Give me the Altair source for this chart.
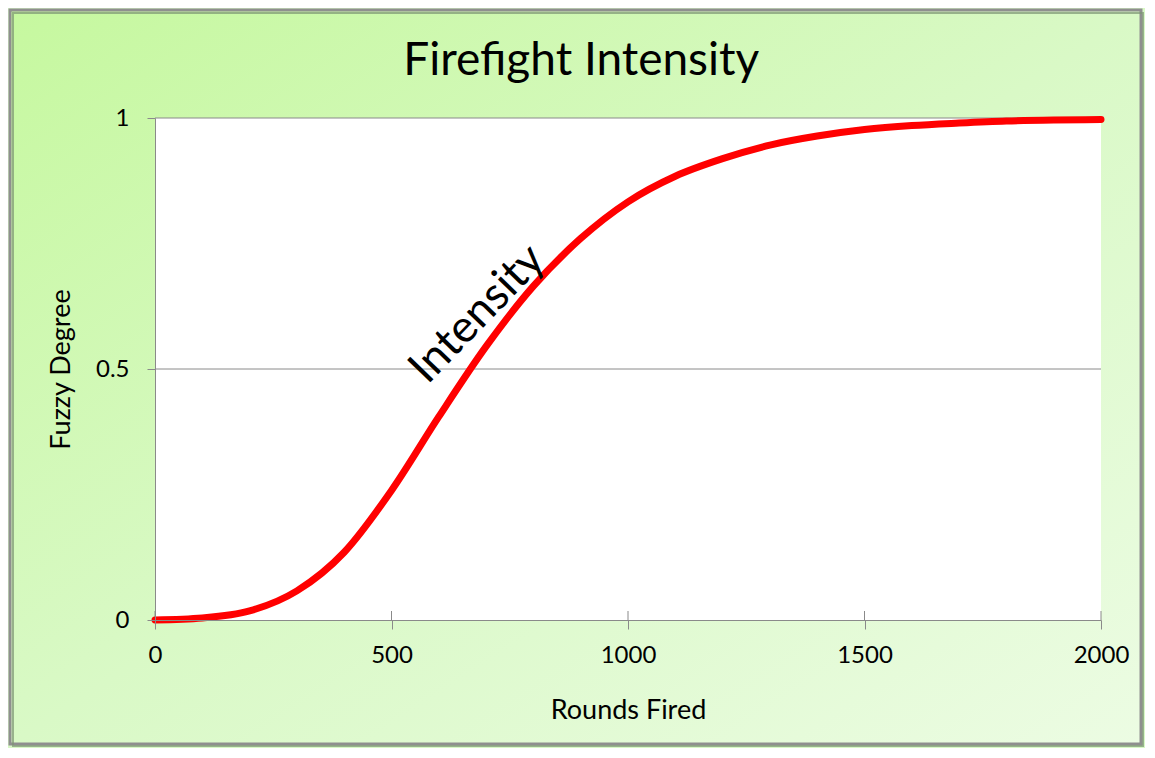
import altair as alt
import pandas as pd

# Curve values
rounds = [0, 100, 200, 300, 400, 500, 600, 700, 800, 900, 1000,
          1100, 1200, 1300, 1400, 1500, 1600, 1700, 1800, 1900, 2000]
degree = [0.0, 0.004, 0.018, 0.058, 0.135, 0.258, 0.405, 0.545, 0.665, 0.76, 0.833,
          0.884, 0.919, 0.946, 0.964, 0.977, 0.985, 0.99, 0.994, 0.996, 0.997]

x_ticks = [0, 500, 1000, 1500, 2000]
y_ticks = [0, 0.5, 1]
grid_vals = [0.5, 1]

title_text = "Firefight Intensity"
x_title = "Rounds Fired"
y_title = "Fuzzy Degree"
label_text = ["Intensity"]
label_x = [681]
label_y = [0.61]

W, H = 946, 502
PL, PT, PR, PB = 147, 110, 44, 128

curve = pd.DataFrame({"x": rounds, "y": degree})
ticks_df = pd.DataFrame({"x": x_ticks})
grid_df = pd.DataFrame({"y": grid_vals})
lab_df = pd.DataFrame({"x": label_x, "y": label_y, "t": label_text})

xs = alt.Scale(domain=[0, 2000], nice=False)
ys = alt.Scale(domain=[0, 1], nice=False)

x_axis = alt.Axis(values=x_ticks, format="d", grid=False, tickSize=9, labelFlush=False,
                  labelPadding=14, titlePadding=30, zindex=1)
y_axis = alt.Axis(values=y_ticks, format="~g", grid=False, tickSize=8, labelFlush=False,
                  labelPadding=18, titlePadding=20, zindex=1)

grad = alt.Gradient(
    gradient="linear",
    stops=[alt.GradientStop(offset=0, color="#c6f89f"),
           alt.GradientStop(offset=0.5, color="#d9f9c6"),
           alt.GradientStop(offset=1, color="#ecfce3")],
    x1=0, y1=0, x2=1, y2=1,
)

one = pd.DataFrame({"a": [0]})
bg = alt.Chart(one).mark_rect(
    fill=grad, stroke="#8f8f8f", strokeWidth=3
).encode(
    x=alt.value(-PL + 2), x2=alt.value(W + PR - 4),
    y=alt.value(-PT + 2), y2=alt.value(H + PB - 4),
)
shadow = alt.Chart(one).mark_rect(
    fill="none", stroke="#7c9474", strokeWidth=2, strokeOpacity=0.7
).encode(
    x=alt.value(-PL + 5), x2=alt.value(W + PR - 2),
    y=alt.value(-PT + 5), y2=alt.value(H + PB - 2),
)
plot_bg = alt.Chart(one).mark_rect(fill="white").encode(
    x=alt.value(0), x2=alt.value(W), y=alt.value(0), y2=alt.value(H)
)

grid = alt.Chart(grid_df).mark_rule(color="#8a8a8a", strokeWidth=1).encode(
    y=alt.Y("y:Q", scale=ys, title=y_title, axis=y_axis), x=alt.value(0), x2=alt.value(W)
)
inner_ticks = alt.Chart(ticks_df).mark_rule(color="#8a8a8a", strokeWidth=1).encode(
    x=alt.X("x:Q", scale=xs, title=x_title, axis=x_axis), y=alt.value(H - 9), y2=alt.value(H)
)

line = alt.Chart(curve).mark_line(
    color="#ff0000", strokeWidth=7, interpolate="monotone", strokeCap="round"
).encode(
    x=alt.X("x:Q", scale=xs, title=x_title, axis=x_axis),
    y=alt.Y("y:Q", scale=ys, title=y_title, axis=y_axis),
)

label = alt.Chart(lab_df).mark_text(
    angle=314, fontSize=45, font="Lato", color="black", align="center", baseline="middle"
).encode(
    x=alt.X("x:Q", scale=xs, title=x_title, axis=x_axis),
    y=alt.Y("y:Q", scale=ys, title=y_title, axis=y_axis),
    text="t:N",
)

chart = alt.layer(bg, shadow, plot_bg, grid, inner_ticks, line, label).properties(
    width=W, height=H,
    autosize=alt.AutoSizeParams(type="none"),
    padding={"left": PL, "top": PT, "right": PR, "bottom": PB},
    title=alt.TitleParams(title_text, fontSize=46, font="Lato", fontWeight="normal",
                          color="black", anchor="middle", baseline="alphabetic",
                          frame="bounds", offset=-112, dx=5),
).configure_view(stroke=None).configure(background="#d8f8c6").configure_axis(
    domainColor="#8a8a8a", tickColor="#8a8a8a", labelFont="Lato", titleFont="Lato",
    labelFontSize=24, titleFontSize=27, labelColor="black", titleColor="black",
    titleFontWeight="normal",
)

chart.save("out.html", embed_options={"renderer": "svg", "actions": False})
